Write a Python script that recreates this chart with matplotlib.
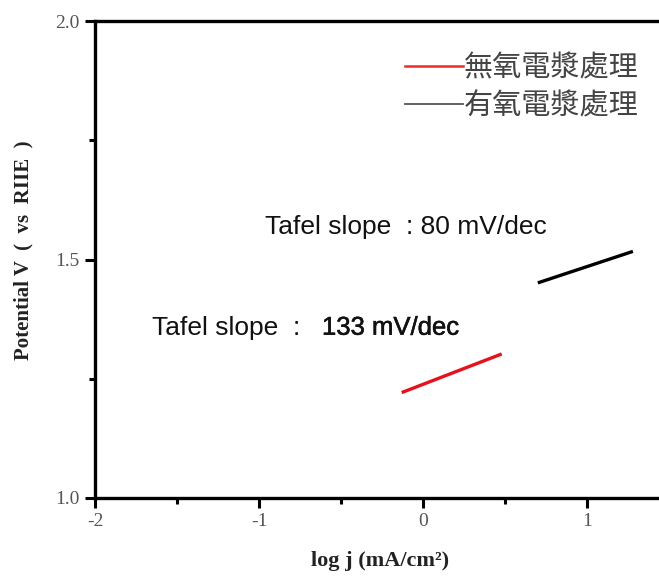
import matplotlib
matplotlib.use("Agg")
import matplotlib.pyplot as plt
from matplotlib.lines import Line2D
import matplotlib.patheffects as pe
from matplotlib.ticker import MultipleLocator

# data
red_x = [-0.13, 0.48]
red_y = [1.221, 1.302]
black_x = [0.70, 1.28]
black_y = [1.451, 1.517]
legend_labels = ["無氧電漿處理", "有氧電漿處理"]
note_top = "Tafel slope  : 80 mV/dec"
note_bottom_a = "Tafel slope  :"
note_bottom_b = "133 mV/dec"
xlabel = "log j (mA/cm²)"
ylabel = "Potential V  (  vs  RIIE  )"

W, H = 659, 579
fig = plt.figure(figsize=(W / 100, H / 100), dpi=100)
ax = fig.add_axes([95 / W, 1 - 498 / H, 1 - 95 / W, (498 - 21) / H])

ax.plot(red_x, red_y, color="#e8101a", lw=2.4, solid_capstyle="butt")
ax.plot(black_x, black_y, color="#000000", lw=2.4, solid_capstyle="butt")

ax.set_xlim(-2, 1.439)
ax.set_ylim(1.0, 2.0)
ax.xaxis.set_minor_locator(MultipleLocator(0.5))
ax.yaxis.set_minor_locator(MultipleLocator(0.25))
ax.set_xticks([-2, -1, 0, 1])
ax.set_xticklabels(["-2", "-1", "0", "1"])
ax.set_yticks([1.0, 1.5, 2.0])
ax.set_yticklabels(["1.0", "1.5", "2.0"])

for s in ["left", "bottom", "top"]:
    ax.spines[s].set_linewidth(2.4)
    ax.spines[s].set_color("black")
ax.spines["right"].set_visible(False)

ax.tick_params(which="major", direction="out", length=7, width=2.2,
               labelsize=14, labelcolor="#555555", pad=4)
ax.tick_params(which="minor", direction="out", length=4, width=2.2)
ax.tick_params(top=False, right=False, which="both")
for lab in ax.get_xticklabels() + ax.get_yticklabels():
    lab.set_family("Liberation Serif")

ax.set_xlabel(xlabel, family="Liberation Serif", fontweight="bold",
              fontsize=16, color="#222222", va="center")
ax.xaxis.set_label_coords((380 - 95) / (W - 95), -(561 - 498) / (498 - 21))
ax.set_ylabel(ylabel, family="Liberation Serif", fontweight="bold",
              fontsize=15, color="#222222", va="center")
ax.yaxis.set_label_coords(-(95 - 23) / (W - 95), (498 - 250) / (498 - 21))

sans = "Liberation Sans"
ax.text(-0.963, 1.569, note_top, family=sans, fontsize=19, color="#111111",
        va="center", ha="left")
ax.text(-1.652, 1.357, note_bottom_a, family=sans, fontsize=19, color="#111111",
        va="center", ha="left")
t = ax.text(-0.616, 1.357, note_bottom_b, family=sans, fontsize=18.5, color="#111111",
            va="center", ha="left")
t.set_path_effects([pe.withStroke(linewidth=0.4, foreground="#111111")])

handles = [Line2D([], [], color="#ee2a2a", lw=1.8),
           Line2D([], [], color="#555555", lw=1.3)]
leg = fig.legend(handles, legend_labels, loc="upper left",
                 bbox_to_anchor=(405 / W, 1 - 53 / H), frameon=False,
                 prop={"family": ["Noto Sans CJK TC", "DejaVu Sans"], "size": 21},
                 handlelength=2.0, handletextpad=0.0, labelspacing=0.28,
                 borderpad=0, borderaxespad=0)
for txt in leg.get_texts():
    txt.set_color("#444444")

fig.savefig("out.png", dpi=100)
